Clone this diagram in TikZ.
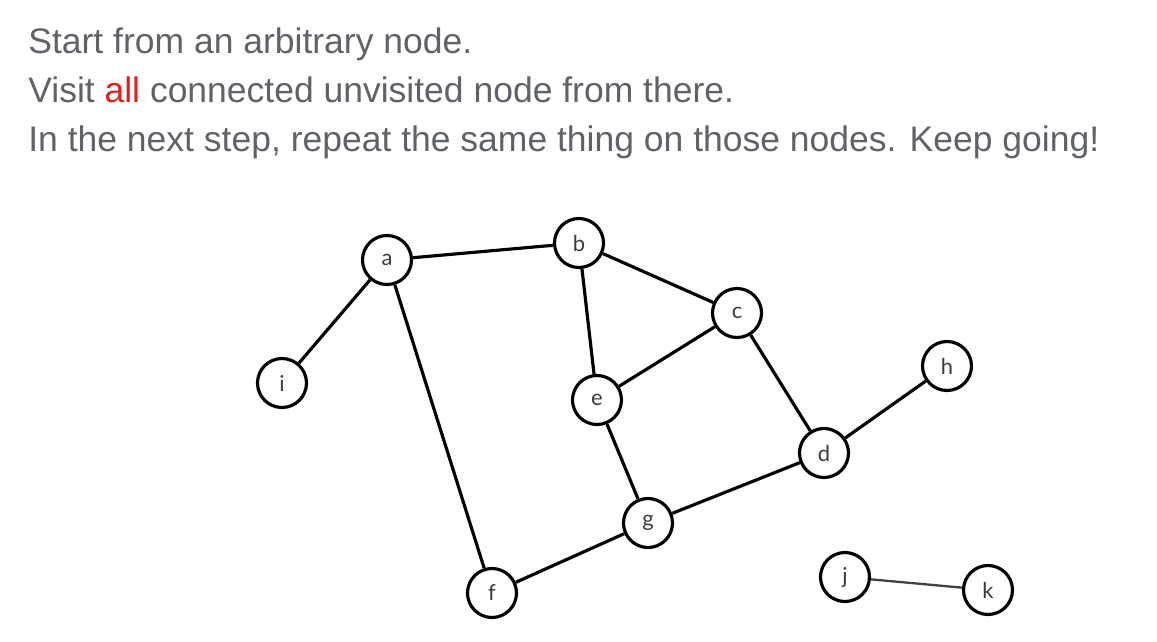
\documentclass[tikz,border=0pt]{standalone}
\usepackage{fontspec}
\setmainfont{Liberation Sans}
\newfontfamily\labelfont{Lato}
\usepackage{tikz}
\usetikzlibrary{positioning}
\usepackage{xcolor}
\definecolor{txtgray}{RGB}{95,99,104}
\definecolor{allred}{RGB}{226,30,30}
\definecolor{lblgray}{RGB}{60,60,60}
\tikzset{
    % Header text
    headline/.style={anchor=base west, inner sep=0pt, text=txtgray,
                font=\fontsize{20.2}{24}\selectfont},
    % Graph
    vnode/.style={circle, draw=black, line width=1.8pt, fill=white,
                minimum size=0.98cm, inner sep=0pt, text=lblgray,
                font=\labelfont\fontsize{12.5}{15}\selectfont},
    gedge/.style={line width=1.8pt, black},
    thinedge/.style={line width=1.3pt, black!75},
}
\begin{document}
\begin{tikzpicture}
\useasboundingbox (0,0) rectangle (23.14,-12.84);

\node[headline] (l1) at (0.56,-1.06) {Start from an arbitrary node.};
\node[headline] (l2) at (0.56,-2.04) {Visit \textcolor{allred}{all} connected unvisited node from there.};
\node[headline] (l3) at (0.56,-3.02) {In the next step, repeat the same thing on those nodes. Keep going!};

\node[vnode] (a) at (7.74,-5.20)  {a};
\node[vnode] (b) at (11.58,-4.86) {b};
\node[vnode] (c) at (14.74,-6.26) {c};
\node[vnode] (d) at (16.48,-9.06) {d};
\node[vnode] (e) at (11.94,-8.00) {e};
\node[vnode] (f) at (9.84,-11.86) {f};
\node[vnode] (g) at (12.96,-10.46) {g};
\node[vnode] (h) at (18.94,-7.32) {h};
\node[vnode] (i) at (5.64,-7.66)  {i};
\node[vnode] (j) at (16.90,-11.54) {j};
\node[vnode] (k) at (19.76,-11.80) {k};

\draw[gedge] (a) -- (b);
\draw[gedge] (a) -- (i);
\draw[gedge] (a) -- (f);
\draw[gedge] (b) -- (c);
\draw[gedge] (b) -- (e);
\draw[gedge] (e) -- (c);
\draw[gedge] (c) -- (d);
\draw[gedge] (d) -- (h);
\draw[gedge] (e) -- (g);
\draw[gedge] (g) -- (d);
\draw[gedge] (g) -- (f);
\draw[thinedge] (j) -- (k);
\end{tikzpicture}
\end{document}
